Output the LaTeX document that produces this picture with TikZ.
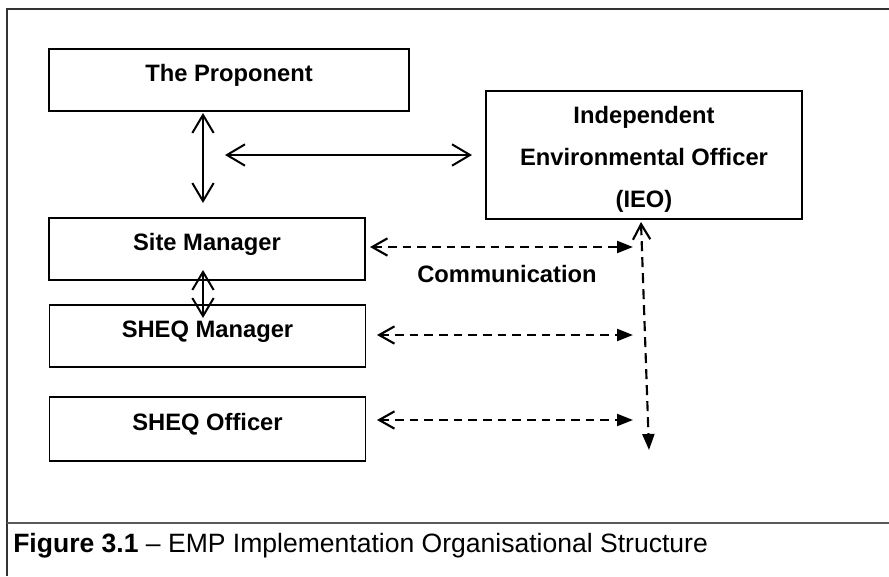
\documentclass[tikz,border=0pt]{standalone}
\usepackage{fontspec}
\setmainfont{Liberation Sans}
\usetikzlibrary{arrows.meta}

\begin{document}
\begin{tikzpicture}[x=0.75pt, y=-0.75pt, line join=miter,
    box/.style={draw, line width=0.8pt, inner sep=0pt, minimum width=237pt, minimum height=46.5pt,
      font=\fontsize{17.8}{31.5}\selectfont\bfseries},
    role/.style={box, text height=12.6pt, text depth=9.8pt},
    solidlink/.style={line width=1.5pt, {Straight Barb[length=13.5pt,width=16pt]}-{Straight Barb[length=13.5pt,width=16pt]}},
    dashlink/.style={line width=1.6pt, dash pattern=on 6.5pt off 4.5pt,
      {Straight Barb[length=11.5pt,width=13pt]}-{Triangle[length=12pt,width=9pt]}}]
        \useasboundingbox (0,0) rectangle (889,576);

        % 外枠と図の説明の区切り線
        \draw[line width=1.5pt, black!80] (889,9) -- (7,9) -- (7,576);
        \draw[line width=1.5pt, black!65] (7,523) -- (889,523);

        % 各担当の箱
        \node[role, minimum width=270pt] (prop) at (229,80) {The Proponent};
        \node[box, minimum height=96pt, align=center, text height=82.5pt, text depth=4pt] (ieo) at (644,155)
            {Independent\\Environmental Officer\\(IEO)};
        \node[role] (site) at (207,249) {Site Manager};
        \node[role] (sheqm) at (207.5,336) {SHEQ Manager};
        \node[role, minimum height=48pt] (sheqo) at (207.5,429) {SHEQ Officer};

        % 矢印の端点
        \coordinate (pv1) at (203,113);  \coordinate (pv2) at (203,203);
        \coordinate (ph1) at (225,155);  \coordinate (ph2) at (472,155);
        \coordinate (sv1) at (203,270);  \coordinate (sv2) at (203,318);
        \coordinate (d1a) at (370,247);  \coordinate (d1b) at (633,247);
        \coordinate (d2a) at (377,335);  \coordinate (d2b) at (633,335);
        \coordinate (d3a) at (377,420);  \coordinate (d3b) at (633,420);
        \coordinate (dv1) at (641,222);  \coordinate (dv2) at (649,450);

        % 実線の両矢印
        \draw[solidlink] (pv1) -- (pv2);
        \draw[solidlink] (ph1) -- (ph2);
        \draw[solidlink] (sv1) -- (sv2);

        % 破線の矢印(連絡)
        \draw[dashlink] (d1a) -- (d1b);
        \draw[dashlink] (d2a) -- (d2b);
        \draw[dashlink] (d3a) -- (d3b);
        \draw[dashlink, dash pattern=on 7.5pt off 4.5pt] (dv1) -- (dv2);
        \node[font=\fontsize{17.8}{21}\selectfont\bfseries] (comm) at (507,274) {Communication};

        % 図の説明
        \node[anchor=west, inner sep=0pt, font=\fontsize{19.9}{23}\selectfont] (cap) at (13,546)
            {\textbf{Figure 3.1} – EMP Implementation Organisational Structure};
    \end{tikzpicture}
\end{document}
